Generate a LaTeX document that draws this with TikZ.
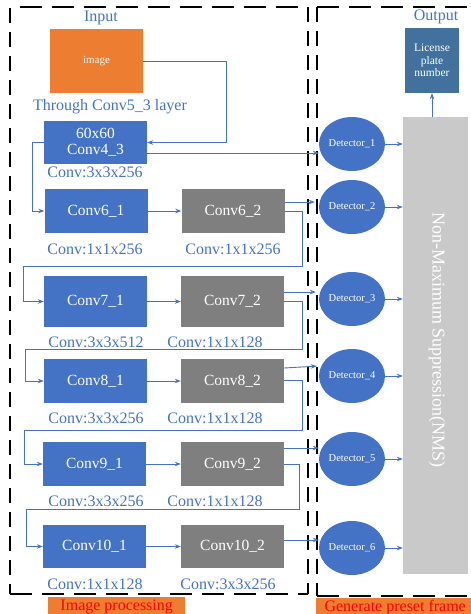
\documentclass[tikz,border=0pt]{standalone}
\usepackage{fontspec}
\setmainfont{Liberation Serif}
\usetikzlibrary{arrows.meta,shapes.geometric}
\definecolor{mblue}{HTML}{4472C4}
\definecolor{mgray}{HTML}{7F7F7F}
\definecolor{morange}{HTML}{ED7D31}
\definecolor{nmsgray}{HTML}{C9C9C9}
\definecolor{licblue}{HTML}{41719C}
\begin{document}
\begin{tikzpicture}[x=1pt,y=-1pt,
 convA/.style={fill=mblue,text=white,minimum width=103pt,minimum height=44pt,inner sep=0pt,font=\fontsize{15.5}{16}\selectfont},
 convB/.style={convA,fill=mgray},
 lab/.style={text=mblue,inner sep=0pt,font=\fontsize{16}{17}\selectfont},
 det/.style={ellipse,fill=mblue,text=white,minimum width=63pt,minimum height=54pt,inner sep=0pt,font=\fontsize{10.5}{12}\selectfont},
 conn/.style={draw=mblue,line width=0.9pt},
 arr/.style={conn,-{Stealth[length=6pt,width=4.5pt]}},
 frameH/.style={line width=1.4pt,dash pattern=on 22pt off 10pt},
 frameV/.style={line width=1.4pt,dash pattern=on 15pt off 9pt},
 tagbox/.style={fill=morange,text=red,anchor=north west,minimum height=19pt,inner sep=0pt,font=\fontsize{16}{17}\selectfont},
]
\useasboundingbox (0,0) rectangle (471,614);

% frames
\draw[frameH] (20,7) -- (308,7);
\draw[frameV] (10,8) -- (10,594);
\draw[frameH] (10,594) -- (308,594);
\draw[frameV] (308,7) -- (308,594);
\draw[frameH] (317,7) -- (476,7);
\draw[frameV] (317,7) -- (317,596);
\draw[frameH] (317,596) -- (476,596);

\node[tagbox,minimum width=137pt] (tagL) at (48,597) {Image processing};
\node[tagbox,minimum width=158pt] (tagR) at (316,598) {Generate preset frame};

% left column
\node[lab] (tin) at (101,18) {Input};
\node[fill=morange,text=white,minimum width=93pt,minimum height=64pt,inner sep=0pt,font=\fontsize{11}{12}\selectfont] (img) at (96.5,61) {image};
\node[lab] (tthr) at (110,107) {Through Conv5\_3 layer};
\node[convA,minimum height=43pt,align=center,font=\fontsize{15.5}{16}\selectfont] (c43) at (95.5,142.5) {60x60\\Conv4\_3};
\node[lab] (l43) at (95,172) {Conv:3x3x256};

\node[convA] (c61) at (96,211) {Conv6\_1};
\node[convB] (c62) at (233,211) {Conv6\_2};
\node[lab] (l61) at (95,249) {Conv:1x1x256};
\node[lab] (l62) at (233,249) {Conv:1x1x256};

\node[convA,minimum height=51pt] (c71) at (95.5,301.5) {Conv7\_1};
\node[convB,minimum height=51pt] (c72) at (232.5,301.5) {Conv7\_2};
\node[lab] (l71) at (96,342) {Conv:3x3x512};
\node[lab] (l72) at (215,342) {Conv:1x1x128};

\node[convA] (c81) at (95.5,381) {Conv8\_1};
\node[convB] (c82) at (232.5,381) {Conv8\_2};
\node[lab] (l81) at (96,418) {Conv:3x3x256};
\node[lab] (l82) at (215,418) {Conv:1x1x128};

\node[convA] (c91) at (94.5,464) {Conv9\_1};
\node[convB] (c92) at (232.5,464) {Conv9\_2};
\node[lab] (l91) at (96,501) {Conv:3x3x256};
\node[lab] (l92) at (215,501) {Conv:1x1x128};

\node[convA,minimum height=43pt] (c101) at (94.5,546.5) {Conv10\_1};
\node[convB,minimum height=43pt] (c102) at (232.5,546.5) {Conv10\_2};
\node[lab] (l101) at (95,584) {Conv:1x1x128};
\node[lab] (l102) at (228,584) {Conv:3x3x256};

% detectors
\node[det] (d1) at (352,144) {Detector\_1};
\node[det] (d2) at (352,207) {Detector\_2};
\node[det] (d3) at (352,299) {Detector\_3};
\node[det] (d4) at (352,376) {Detector\_4};
\node[det] (d5) at (352,459) {Detector\_5};
\node[det] (d6) at (352,548) {Detector\_6};

% NMS and output
\node[fill=nmsgray,minimum width=65pt,minimum height=457pt,inner sep=0pt] (nms) at (435.5,345.5) {};
\node[text=white,rotate=-90,inner sep=0pt,font=\fontsize{18}{19}\selectfont] (nmst) at (437,340) {Non-Maximum Suppression(NMS)};
\node[fill=licblue,text=white,minimum width=54pt,minimum height=65pt,inner sep=0pt,align=center,font=\fontsize{11.5}{12.5}\selectfont] (lic) at (432,60.5) {License\\plate\\number};
\node[lab] (tout) at (436,17) {Output};

% connectors
\draw[arr] (img.east) -| ([xshift=79pt]c43.east) -- (c43.east);
\draw[arr] ([yshift=-10.5pt]c43.east) -- ([yshift=-9pt]d1.west);
\draw[arr] (c43.west) -- ++(-11,0) |- (c61.west);
\draw[arr] (c61) -- (c62);
\draw[arr,shorten >=4pt] ([yshift=9pt]c62.east) -- ([yshift=5pt]d2.west);
\draw[arr] (c62.east) -| (302,266) -| ([xshift=-20pt]c71.west) -- (c71.west);
\draw[arr] (c71) -- (c72);
\draw[arr,shorten >=3pt] ([yshift=9.5pt]c72.east) -- ([yshift=7pt]d3.west);
\draw[arr] (c72.east) -| (302,349) -| ([xshift=-18pt]c81.west) -- (c81.west);
\draw[arr] (c81) -- (c82);
\draw[arr,shorten >=2pt] ([yshift=13pt]c82.east) -- ([yshift=10pt]d4.west);
\draw[arr] ([yshift=1pt]c82.east) -| (302,430) -| ([xshift=-18pt]c91.west) -- (c91.west);
\draw[arr] (c91) -- (c92);
\draw[arr] ([yshift=16pt]c92.east) -- ([yshift=11pt]d5.west);
\draw[arr] (c92.east) -| (299,509) -| ([xshift=-16pt]c101.west) -- (c101.west);
\draw[arr] (c101) -- (c102);
\draw[arr] ([yshift=6.5pt]c102.east) -- ([yshift=8pt]d6.west);

\foreach \d in {d1,d2,d3,d4,d5,d6}
  \draw[arr] (\d.east) -- (nms.west |- \d.east);
\draw[arr] (lic.south |- nms.north) -- (lic.south);
\end{tikzpicture}
\end{document}
